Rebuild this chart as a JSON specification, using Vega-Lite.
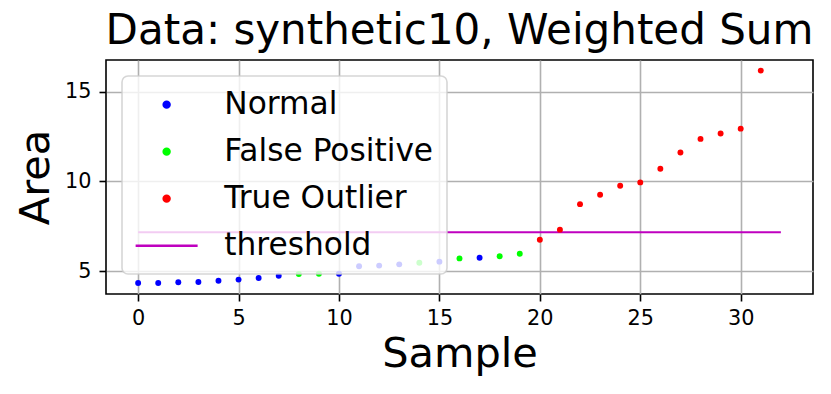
{
  "$schema": "https://vega.github.io/schema/vega-lite/v6.json",
  "width": 707,
  "height": 234,
  "autosize": "none",
  "padding": {"left": 106, "top": 60, "right": 18, "bottom": 100},
  "background": "white",
  "title": {
    "text": "Data: synthetic10, Weighted Sum",
    "font": "DejaVu Sans",
    "fontSize": 42,
    "fontWeight": "normal",
    "color": "#000000",
    "anchor": "middle",
    "frame": "group",
    "baseline": "alphabetic",
    "offset": -26
  },
  "config": {
    "view": {"stroke": "#000000", "strokeWidth": 1.6},
    "axis": {
      "labelFont": "DejaVu Sans",
      "labelFontSize": 20.8,
      "labelColor": "#000000",
      "titleFont": "DejaVu Sans",
      "titleFontSize": 41.5,
      "titleFontWeight": "normal",
      "titleColor": "#000000",
      "domain": false,
      "tickColor": "#000000",
      "tickWidth": 1.6,
      "tickSize": 7,
      "grid": true,
      "gridColor": "#b0b0b0",
      "gridWidth": 1.6
    }
  },
  "datasets": {
    "points": [
      {"sample": 0, "area": 4.35, "label": "Normal"},
      {"sample": 1, "area": 4.35, "label": "Normal"},
      {"sample": 2, "area": 4.39, "label": "Normal"},
      {"sample": 3, "area": 4.41, "label": "Normal"},
      {"sample": 4, "area": 4.48, "label": "Normal"},
      {"sample": 5, "area": 4.54, "label": "Normal"},
      {"sample": 6, "area": 4.63, "label": "Normal"},
      {"sample": 7, "area": 4.76, "label": "Normal"},
      {"sample": 8, "area": 4.85, "label": "False Positive"},
      {"sample": 9, "area": 4.87, "label": "False Positive"},
      {"sample": 10, "area": 4.87, "label": "Normal"},
      {"sample": 11, "area": 5.28, "label": "Normal"},
      {"sample": 12, "area": 5.32, "label": "Normal"},
      {"sample": 13, "area": 5.39, "label": "Normal"},
      {"sample": 14, "area": 5.48, "label": "False Positive"},
      {"sample": 15, "area": 5.54, "label": "Normal"},
      {"sample": 16, "area": 5.72, "label": "False Positive"},
      {"sample": 17, "area": 5.76, "label": "Normal"},
      {"sample": 18, "area": 5.84, "label": "False Positive"},
      {"sample": 19, "area": 5.98, "label": "False Positive"},
      {"sample": 20, "area": 6.76, "label": "True Outlier"},
      {"sample": 21, "area": 7.32, "label": "True Outlier"},
      {"sample": 22, "area": 8.74, "label": "True Outlier"},
      {"sample": 23, "area": 9.26, "label": "True Outlier"},
      {"sample": 24, "area": 9.76, "label": "True Outlier"},
      {"sample": 25, "area": 9.95, "label": "True Outlier"},
      {"sample": 26, "area": 10.71, "label": "True Outlier"},
      {"sample": 27, "area": 11.61, "label": "True Outlier"},
      {"sample": 28, "area": 12.37, "label": "True Outlier"},
      {"sample": 29, "area": 12.67, "label": "True Outlier"},
      {"sample": 30, "area": 12.94, "label": "True Outlier"},
      {"sample": 31, "area": 16.17, "label": "True Outlier"}
    ],
    "threshold": [
      {"start": 0, "end": 32, "value": 7.17, "label": "threshold"}
    ]
  },
  "layer": [
    {
      "data": {"name": "threshold"},
      "mark": {"type": "rule", "strokeWidth": 2},
      "encoding": {
        "x": {"field": "start", "type": "quantitative"},
        "x2": {"field": "end"},
        "y": {"field": "value", "type": "quantitative"},
        "color": {"field": "label", "type": "nominal"}
      }
    },
    {
      "data": {"name": "points"},
      "mark": {"type": "circle", "size": 35, "opacity": 1},
      "encoding": {
        "x": {
          "field": "sample",
          "type": "quantitative",
          "title": "Sample",
          "scale": {"domain": [-1.6, 33.6], "nice": false, "zero": false},
          "axis": {
            "values": [0, 5, 10, 15, 20, 25, 30],
            "labelPadding": 7,
            "titleBaseline": "alphabetic",
            "titleY": 72.5,
            "titleAnchor": "middle"
          }
        },
        "y": {
          "field": "area",
          "type": "quantitative",
          "title": "Area",
          "scale": {"domain": [3.74, 16.76], "nice": false, "zero": false},
          "axis": {
            "values": [5, 10, 15],
            "labelPadding": 8,
            "titleBaseline": "alphabetic",
            "titleX": -58,
            "titleAnchor": "middle"
          }
        },
        "color": {
          "field": "label",
          "type": "nominal",
          "scale": {
            "domain": ["Normal", "False Positive", "True Outlier", "threshold"],
            "range": ["#0000ff", "#00ff00", "#ff0000", "#bf00bf"]
          },
          "legend": {
            "title": null,
            "orient": "none",
            "legendX": 16,
            "legendY": 16,
            "direction": "vertical",
            "fillColor": "rgba(255,255,255,0.8)",
            "strokeColor": "rgba(204,204,204,0.8)",
            "cornerRadius": 6,
            "padding": 13,
            "labelFont": "DejaVu Sans",
            "labelFontSize": 31.25,
            "labelColor": "#000000",
            "labelLimit": 500,
            "labelOffset": 42,
            "symbolOffset": 16,
            "symbolSize": 3844,
            "rowPadding": 15,
            "symbolOpacity": 1,
            "encode": {
              "legend": {
                "update": {
                  "strokeWidth": {"value": 1.6}
                }
              },
              "symbols": {
                "update": {
                  "shape": {"signal": "datum.value === 'threshold' ? 'stroke' : 'circle'"},
                  "size": {"signal": "datum.value === 'threshold' ? 3844 : 35"},
                  "fill": {"signal": "datum.value === 'threshold' ? 'transparent' : scale('color', datum.value)"},
                  "stroke": {"signal": "datum.value === 'threshold' ? '#bf00bf' : 'transparent'"},
                  "strokeWidth": {"value": 2.5},
                  "opacity": {"value": 1}
                }
              }
            }
          }
        }
      }
    }
  ]
}
